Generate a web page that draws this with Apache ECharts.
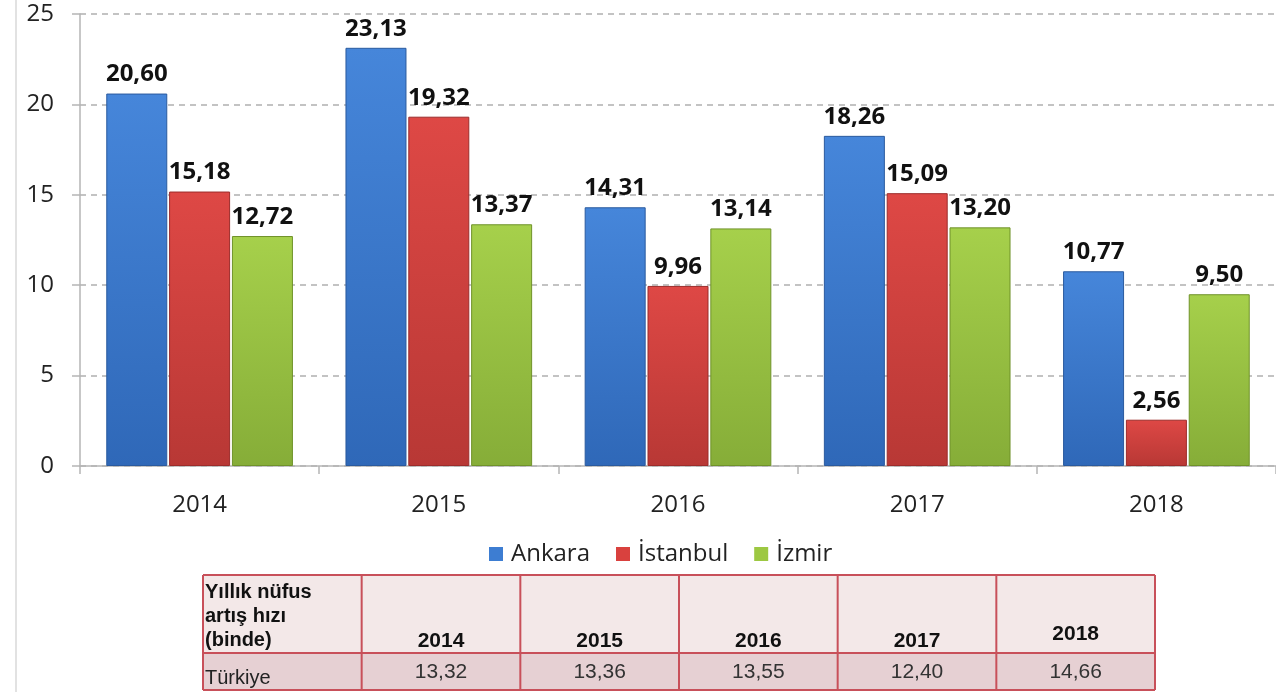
<!DOCTYPE html>
<html>
<head>
<meta charset="utf-8">
<script src="https://cdn.jsdelivr.net/npm/echarts@6/dist/echarts.min.js"></script>
<style>
html,body{margin:0;padding:0;background:#fff;}
#chart{width:1276px;height:692px;}
</style>
</head>
<body>
<div id="chart"></div>
<script>
// ---- data ----
var categories = ['2014', '2015', '2016', '2017', '2018'];
var seriesNames = ['Ankara', 'İstanbul', 'İzmir'];
var ankara = [20.60, 23.13, 14.31, 18.26, 10.77];
var istanbul = [15.18, 19.32, 9.96, 15.09, 2.56];
var izmir = [12.72, 13.37, 13.14, 13.20, 9.50];
var yTicks = [0, 5, 10, 15, 20, 25];
var tableHeaderLabel = 'Yıllık nüfus\nartış hızı\n(binde)';
var tableRowLabel = 'Türkiye';
var tableYears = ['2014', '2015', '2016', '2017', '2018'];
var turkiye = [13.32, 13.36, 13.55, 12.40, 14.66];

function fmt(v) { return v.toFixed(2).replace('.', ','); }

function vgrad(top, bottom) {
  return new echarts.graphic.LinearGradient(0, 0, 0, 1, [
    {offset: 0, color: top},
    {offset: 1, color: bottom}
  ]);
}
var fills = [
  vgrad('#4686da', '#2f68b8'),
  vgrad('#de4845', '#b83835'),
  vgrad('#a6d04b', '#86ad38')
];
var borders = ['#2a5a9e', '#9c2c2a', '#6f9229'];
var legendColors = ['#3d7dd2', '#d9413e', '#9dc842'];

var FONT = '"Open Sans", sans-serif';

var seriesData = [ankara, istanbul, izmir];
var series = seriesData.map(function (d, i) {
  return {
    name: seriesNames[i],
    type: 'bar',
    data: d,
    barWidth: 61,
    barGap: '3%',
    itemStyle: {color: fills[i], borderColor: borders[i], borderWidth: 1},
    label: {
      show: true,
      position: 'top',
      distance: 7,
      formatter: function (p) { return fmt(p.value); },
      fontFamily: FONT,
      fontWeight: 'bold',
      fontSize: 24,
      color: '#111'
    }
  };
});

// ---- table (graphic) ----
var tLeft = 203, tRight = 1155, tTop = 575, hdrH = 78, rowH = 37;
var colW = (tRight - tLeft) / (tableYears.length + 1);
var border = '#c8505a';
var tableFont = '"Liberation Sans", Arial, sans-serif';
var sx = 1.05;
var g = [];
g.push({type: 'line', shape: {x1: 16, y1: 0, x2: 16, y2: 692}, style: {stroke: '#d9d9d9', lineWidth: 1.5}, silent: true});
g.push({type: 'rect', shape: {x: tLeft, y: tTop, width: tRight - tLeft, height: hdrH}, style: {fill: '#f3e8e8'}, silent: true});
g.push({type: 'rect', shape: {x: tLeft, y: tTop + hdrH, width: tRight - tLeft, height: rowH}, style: {fill: '#e6d0d3'}, silent: true});
[tTop, tTop + hdrH, tTop + hdrH + rowH].forEach(function (y) {
  g.push({type: 'line', shape: {x1: tLeft, y1: y, x2: tRight, y2: y}, style: {stroke: border, lineWidth: 2}, silent: true});
});
for (var c = 0; c <= tableYears.length + 1; c++) {
  var x = tLeft + c * colW;
  g.push({type: 'line', shape: {x1: x, y1: tTop, x2: x, y2: tTop + hdrH + rowH}, style: {stroke: border, lineWidth: 2}, silent: true});
}
g.push({type: 'text', x: tLeft + 2, y: tTop + 5,
  style: {text: tableHeaderLabel, font: 'bold 20px ' + tableFont, fill: '#111', lineHeight: 24, align: 'left', verticalAlign: 'top'}, silent: true});
g.push({type: 'text', x: tLeft + 2, y: tTop + hdrH + rowH - 12,
  style: {text: tableRowLabel, font: '20px ' + tableFont, fill: '#222', align: 'left', verticalAlign: 'middle'}, silent: true});
tableYears.forEach(function (yr, i) {
  var cx = tLeft + (i + 1.5) * colW;
  var isLast = i === tableYears.length - 1;
  g.push({type: 'text', x: cx, y: tTop + (isLast ? 59 : 66), scaleX: sx,
    style: {text: yr, font: 'bold 20px ' + tableFont, fill: '#111', align: 'center', verticalAlign: 'middle'}, silent: true});
  g.push({type: 'text', x: cx, y: tTop + hdrH + 19, scaleX: sx,
    style: {text: fmt(turkiye[i]), font: '20px ' + tableFont, fill: '#333', align: 'center', verticalAlign: 'middle'}, silent: true});
});

var chart = echarts.init(document.getElementById('chart'), null, {renderer: 'canvas'});
chart.setOption({
  animation: false,
  backgroundColor: '#fff',
  grid: {left: 80, top: 14, width: 1200, bottom: 226, containLabel: false},
  legend: {
    data: seriesNames.map(function (n, i) { return {name: n, itemStyle: {color: legendColors[i], borderWidth: 0}}; }),
    left: 484,
    top: 537,
    itemWidth: 14,
    itemHeight: 14,
    itemGap: 26,
    icon: 'rect',
    textStyle: {fontFamily: FONT, fontSize: 24, color: '#222', padding: [0, 0, 0, 3]}
  },
  xAxis: {
    type: 'category',
    data: categories,
    axisLine: {lineStyle: {color: '#b5b5b5', width: 1.5}},
    axisTick: {show: true, length: 8, lineStyle: {color: '#b5b5b5', width: 1.5}},
    axisLabel: {fontFamily: FONT, fontSize: 24, color: '#222', margin: 27}
  },
  yAxis: {
    type: 'value',
    min: yTicks[0],
    max: yTicks[yTicks.length - 1],
    interval: yTicks[1] - yTicks[0],
    axisLine: {show: true, lineStyle: {color: '#b5b5b5', width: 1.5}},
    axisTick: {show: true, length: 8, lineStyle: {color: '#b5b5b5', width: 1.5}},
    axisLabel: {fontFamily: FONT, fontSize: 24, color: '#222', margin: 26},
    splitLine: {show: true, lineStyle: {color: '#b0b0b0', type: [6, 5], width: 1.5}}
  },
  series: series,
  graphic: g
});
</script>
</body>
</html>
